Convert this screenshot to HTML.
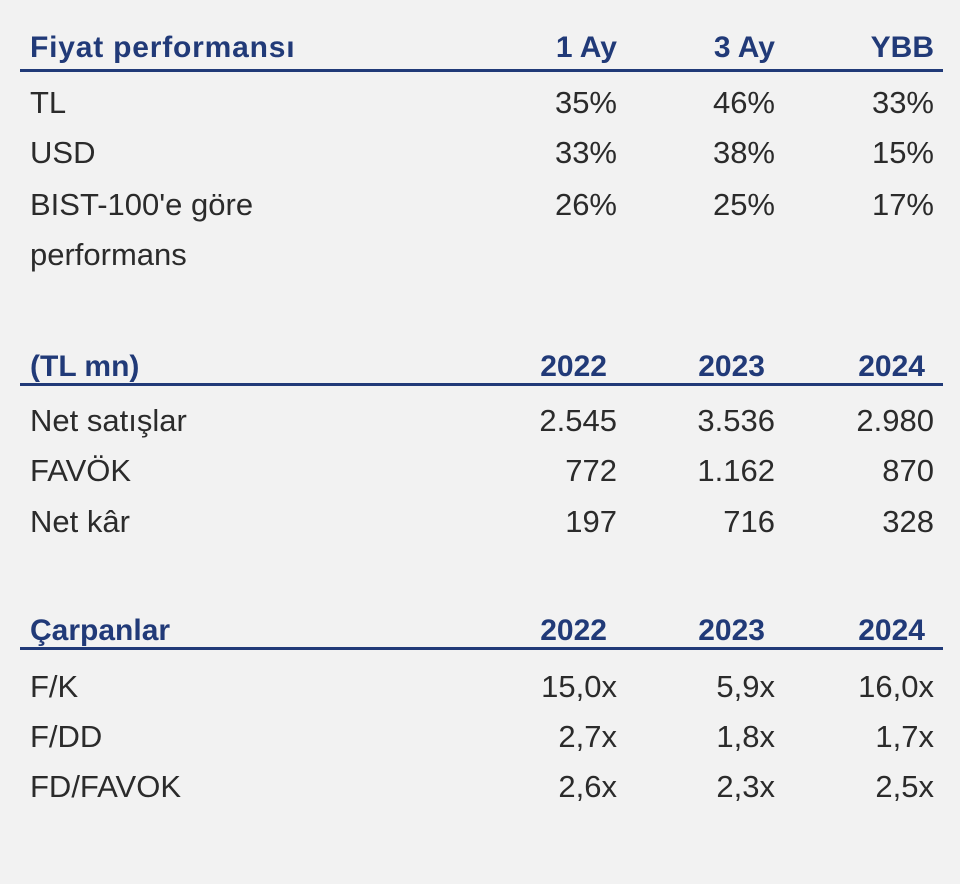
<!DOCTYPE html>
<html><head><meta charset="utf-8"><style>
body{margin:0;width:960px;height:884px;background:#f2f2f2;position:relative;overflow:hidden;font-family:"Liberation Sans",sans-serif;}
.t{position:absolute;white-space:nowrap;}
.h{font-size:30px;line-height:30px;font-weight:bold;color:#213a78;}
.b{font-size:31px;line-height:31px;color:#2b2b2b;}
.r{text-align:right;}
.line{position:absolute;left:20px;width:923px;height:3px;background:#213a78;}
</style></head><body>
<div class="t h" style="left:30px;top:33px;letter-spacing:0.8px">Fiyat performansı</div>
<div class="t h r" style="right:343px;top:33px">1 Ay</div>
<div class="t h r" style="right:185px;top:33px">3 Ay</div>
<div class="t h r" style="right:26px;top:33px">YBB</div>
<div class="line" style="top:69px"></div>

<div class="t b" style="left:30px;top:87px">TL</div>
<div class="t b r" style="right:343px;top:87px">35%</div>
<div class="t b r" style="right:185px;top:87px">46%</div>
<div class="t b r" style="right:26px;top:87px">33%</div>
<div class="t b" style="left:30px;top:137px">USD</div>
<div class="t b r" style="right:343px;top:137px">33%</div>
<div class="t b r" style="right:185px;top:137px">38%</div>
<div class="t b r" style="right:26px;top:137px">15%</div>
<div class="t b" style="left:30px;top:189px">BIST-100'e göre</div>
<div class="t b" style="left:30px;top:239px">performans</div>
<div class="t b r" style="right:343px;top:189px">26%</div>
<div class="t b r" style="right:185px;top:189px">25%</div>
<div class="t b r" style="right:26px;top:189px">17%</div>

<div class="t h" style="left:30px;top:352px">(TL mn)</div>
<div class="t h r" style="right:353px;top:352px">2022</div>
<div class="t h r" style="right:195px;top:352px">2023</div>
<div class="t h r" style="right:35px;top:352px">2024</div>
<div class="line" style="top:383px"></div>

<div class="t b" style="left:30px;top:405px">Net satışlar</div>
<div class="t b r" style="right:343px;top:405px">2.545</div>
<div class="t b r" style="right:185px;top:405px">3.536</div>
<div class="t b r" style="right:26px;top:405px">2.980</div>
<div class="t b" style="left:30px;top:455px">FAVÖK</div>
<div class="t b r" style="right:343px;top:455px">772</div>
<div class="t b r" style="right:185px;top:455px">1.162</div>
<div class="t b r" style="right:26px;top:455px">870</div>
<div class="t b" style="left:30px;top:506px">Net kâr</div>
<div class="t b r" style="right:343px;top:506px">197</div>
<div class="t b r" style="right:185px;top:506px">716</div>
<div class="t b r" style="right:26px;top:506px">328</div>

<div class="t h" style="left:30px;top:616px">Çarpanlar</div>
<div class="t h r" style="right:353px;top:616px">2022</div>
<div class="t h r" style="right:195px;top:616px">2023</div>
<div class="t h r" style="right:35px;top:616px">2024</div>
<div class="line" style="top:647px"></div>

<div class="t b" style="left:30px;top:671px">F/K</div>
<div class="t b r" style="right:343px;top:671px">15,0x</div>
<div class="t b r" style="right:185px;top:671px">5,9x</div>
<div class="t b r" style="right:26px;top:671px">16,0x</div>
<div class="t b" style="left:30px;top:721px">F/DD</div>
<div class="t b r" style="right:343px;top:721px">2,7x</div>
<div class="t b r" style="right:185px;top:721px">1,8x</div>
<div class="t b r" style="right:26px;top:721px">1,7x</div>
<div class="t b" style="left:30px;top:771px">FD/FAVOK</div>
<div class="t b r" style="right:343px;top:771px">2,6x</div>
<div class="t b r" style="right:185px;top:771px">2,3x</div>
<div class="t b r" style="right:26px;top:771px">2,5x</div>
</body></html>
